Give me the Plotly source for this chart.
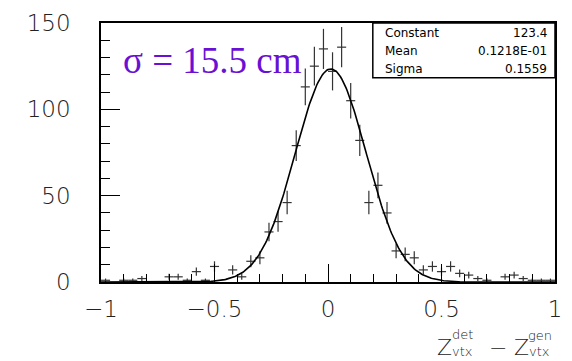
import numpy as np
import plotly.graph_objects as go

# ---- data ----
bin_centers = [round(-0.98 + 0.04 * k, 2) for k in range(50)]
counts = [1, 0, 1, 1, 2, 0, 0, 3, 3, 1,
          6, 1, 9, 0, 7, 3, 12, 14, 29, 35,
          46, 79, 113, 125, 135, 122, 136, 105, 82, 46,
          56, 40, 18, 16, 14, 7, 9, 6, 9, 5,
          4, 2, 1, 0, 3, 4, 2, 1, 1, 1]
fit_constant = 123.4
fit_mean = 0.1218e-01
fit_sigma = 0.1559
stat_labels = ["Constant", "Mean", "Sigma"]
stat_values = ["123.4", "0.1218E-01", "0.1559"]
x_ticks = [-1, -0.5, 0, 0.5, 1]
x_ticktext = ["\u22121", "\u22120.5", "0", "0.5", "1"]
y_ticks = [0, 50, 100, 150]

# ---- layout geometry (pixels) ----
W, H = 572, 361
L, R, T, B = 101, 562, 19.5, 282.5

def px(xp):
    return (xp - L) / (R - L)

def py(yp):
    return (B - yp) / (B - T)

xs = [x for x, n in zip(bin_centers, counts) if n > 0]
ys = [n for n in counts if n > 0]
errs = [float(np.sqrt(n)) for n in ys]

fig = go.Figure()
fig.add_trace(go.Scatter(
    x=xs, y=ys, mode="markers",
    marker=dict(size=1, color="rgba(0,0,0,0)"),
    error_y=dict(type="data", array=errs, visible=True, width=0, thickness=1.2, color="#333"),
    error_x=dict(type="constant", value=0.02, visible=True, width=0, thickness=1.2, color="#333"),
    showlegend=False, hoverinfo="skip",
))
xf = np.linspace(-1, 1, 401)
yf = fit_constant * np.exp(-0.5 * ((xf - fit_mean) / fit_sigma) ** 2)
fig.add_trace(go.Scatter(x=xf, y=yf, mode="lines", line=dict(color="black", width=1.6),
                         showlegend=False, hoverinfo="skip"))

tickfont = dict(family="DejaVu Sans", size=23, color="#222", weight=300)
fig.update_xaxes(range=[-1, 1], tickvals=x_ticks, ticktext=x_ticktext,
                 ticks="inside", ticklen=18, tickwidth=1.2, tickcolor="black",
                 minor=dict(dtick=0.1, ticks="inside", ticklen=8, tickwidth=1.2, tickcolor="black"),
                 showline=True, linecolor="black", linewidth=1.6, mirror=True,
                 showgrid=False, zeroline=False, tickfont=tickfont, ticklabelstandoff=6)
fig.update_yaxes(range=[0, 150], tickvals=y_ticks,
                 ticks="inside", ticklen=19, tickwidth=1.2, tickcolor="black",
                 minor=dict(dtick=10, ticks="inside", ticklen=9, tickwidth=1.2, tickcolor="black"),
                 showline=True, linecolor="black", linewidth=1.6, mirror=True,
                 showgrid=False, zeroline=False, tickfont=tickfont, ticklabelstandoff=24)

# stats box
fig.add_shape(type="rect", xref="paper", yref="paper",
              x0=px(377), x1=1.0, y0=py(75), y1=1.0,
              line=dict(color="black", width=1.5), fillcolor="white", layer="above")
sfont = dict(family="DejaVu Sans", size=12, color="black")
for i, (lab, val) in enumerate(zip(stat_labels, stat_values)):
    yc = py(30 + 18.3 * i)
    fig.add_annotation(xref="paper", yref="paper", x=px(387), y=yc, text=lab,
                       showarrow=False, xanchor="left", yanchor="middle", font=sfont)
    fig.add_annotation(xref="paper", yref="paper", x=px(556), y=yc, text=val,
                       showarrow=False, xanchor="right", yanchor="middle", font=sfont)

# sigma label
fig.add_annotation(xref="paper", yref="paper", x=px(121), y=py(58), text="\u03c3 = 15.5 cm",
                   showarrow=False, xanchor="left", yanchor="middle",
                   font=dict(family="Liberation Serif", size=37, color="#6a10d4"))

# x-axis title built from pieces
big = dict(family="DejaVu Sans", size=22, color="#222", weight=300)
small = dict(family="DejaVu Sans", size=13, color="#222", weight=300)
def ann(x, y, t, f, anchor="left"):
    fig.add_annotation(xref="paper", yref="paper", x=px(x), y=py(y), text=t,
                       showarrow=False, xanchor=anchor, yanchor="middle", font=f,
                       borderpad=0)
ann(441, 349, "Z", big)
ann(456, 336, "det", small)
ann(456, 353, "vtx", small)
ann(494, 349, "\u2212", big)
ann(519, 349, "Z", big)
ann(534, 337, "gen", small)
ann(535, 353, "vtx", small)

fig.update_layout(width=W, height=H, margin=dict(l=L, r=W - R, t=T, b=H - B),
                  paper_bgcolor="white", plot_bgcolor="white")
fig.write_html("out.html")
